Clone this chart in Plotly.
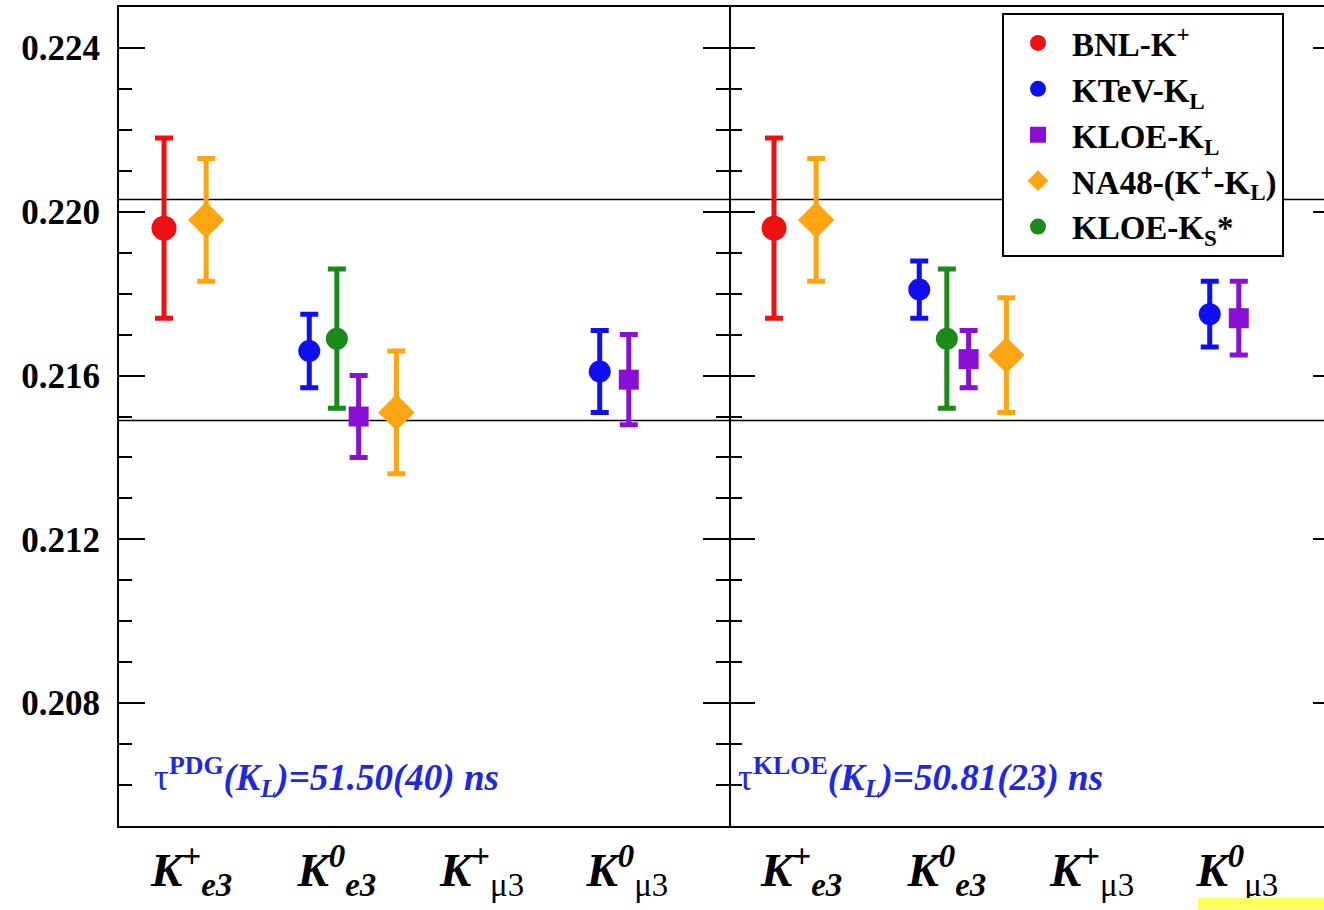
import plotly.graph_objects as go

# Decay channels on the horizontal axis
categories = ["K+e3", "K0e3", "K+mu3", "K0mu3"]
category_labels = [
    "<b><i>K</i></b><sup><b>+</b></sup><sub><b><i>e3</i></b></sub>",
    "<b><i>K</i></b><sup><b><i>0</i></b></sup><sub><b><i>e3</i></b></sub>",
    "<b><i>K</i></b><sup><b>+</b></sup><sub>\u03bc3</sub>",
    "<b><i>K</i></b><sup><b><i>0</i></b></sup><sub>\u03bc3</sub>",
]

# |Vus| f+(0) per experiment, one list per panel (None = no measurement)
# Panel 1: K_L lifetime from PDG
bnl_pdg = [0.2196, None, None, None]
bnl_pdg_err = [0.0022, None, None, None]
ktev_pdg = [None, 0.2166, None, 0.2161]
ktev_pdg_err = [None, 0.0009, None, 0.0010]
kloe_kl_pdg = [None, 0.2150, None, 0.2159]
kloe_kl_pdg_err = [None, 0.0010, None, 0.0011]
na48_pdg = [0.2198, 0.2151, None, None]
na48_pdg_err = [0.0015, 0.0015, None, None]
kloe_ks_pdg = [None, 0.2169, None, None]
kloe_ks_pdg_err = [None, 0.0017, None, None]

# Panel 2: K_L lifetime from KLOE
bnl_kloe = [0.2196, None, None, None]
bnl_kloe_err = [0.0022, None, None, None]
ktev_kloe = [None, 0.2181, None, 0.2175]
ktev_kloe_err = [None, 0.0007, None, 0.0008]
kloe_kl_kloe = [None, 0.2164, None, 0.2174]
kloe_kl_kloe_err = [None, 0.0007, None, 0.0009]
na48_kloe = [0.2198, 0.2165, None, None]
na48_kloe_err = [0.0015, 0.0014, None, None]
kloe_ks_kloe = [None, 0.2169, None, None]
kloe_ks_kloe_err = [None, 0.0017, None, None]

# Horizontal reference band
band_edges = [0.2149, 0.2203]

panel_notes = [
    "\u03c4<sup><b>PDG</b></sup><b><i>(K<sub>L</sub>)=51.50(40) ns</i></b>",
    "\u03c4<sup><b>KLOE</b></sup><b><i>(K<sub>L</sub>)=50.81(23) ns</i></b>",
]

legend_names = [
    "BNL-K<sup>+</sup>",
    "KTeV-K<sub>L</sub>",
    "KLOE-K<sub>L</sub>",
    "NA48-(K<sup>+</sup>-K<sub>L</sub>)",
    "KLOE-K<sub>S</sub>*",
]

# ---- styling ----
cat_pos = [0.5, 1.5, 2.5, 3.5]
series_style = [
    # colour, symbol, size, per-category horizontal offset
    dict(color="#ee1111", symbol="circle", size=25, offset=[-0.19, 0, 0, 0]),
    dict(color="#1010ee", symbol="circle", size=22, offset=[0, -0.19, 0, -0.19]),
    dict(color="#8a0fd6", symbol="square", size=20, offset=[0, 0.15, 0, 0.01]),
    dict(color="#ffa511", symbol="diamond", size=28, offset=[0.1, 0.41, 0, 0]),
    dict(color="#1a8a1a", symbol="circle", size=22, offset=[0, 0.0, 0, 0]),
]
panels = [
    [(bnl_pdg, bnl_pdg_err), (ktev_pdg, ktev_pdg_err), (kloe_kl_pdg, kloe_kl_pdg_err),
     (na48_pdg, na48_pdg_err), (kloe_ks_pdg, kloe_ks_pdg_err)],
    [(bnl_kloe, bnl_kloe_err), (ktev_kloe, ktev_kloe_err), (kloe_kl_kloe, kloe_kl_kloe_err),
     (na48_kloe, na48_kloe_err), (kloe_ks_kloe, kloe_ks_kloe_err)],
]

SERIF = "Liberation Serif, Times New Roman, serif"
W, H = 1324, 910
ML, MR, MT, MB = 119, 0, 7, 84
plot_w = W - ML - MR
plot_h = H - MT - MB
split = 610 / plot_w
px_per_unit = 610 / 4.2

fig = go.Figure()
for p, panel in enumerate(panels):
    xa = "x" if p == 0 else "x2"
    ya = "y" if p == 0 else "y2"
    for s, (vals, errs) in enumerate(panel):
        st = series_style[s]
        xs, ys, es = [], [], []
        for i, v in enumerate(vals):
            if v is None:
                continue
            xs.append(cat_pos[i] + st["offset"][i])
            ys.append(v)
            es.append(errs[i])
        fig.add_trace(go.Scatter(
            x=xs, y=ys, mode="markers", xaxis=xa, yaxis=ya,
            name=legend_names[s], showlegend=(p == 0),
            marker=dict(color=st["color"], symbol=st["symbol"], size=st["size"],
                        line=dict(width=0)),
            error_y=dict(type="data", array=es, visible=True, color=st["color"],
                         thickness=5, width=9),
        ))

# empty trace carrying the right-hand tick axis
fig.add_trace(go.Scatter(x=[], y=[], xaxis="x2", yaxis="y3", showlegend=False))

for xr in ("x", "x2"):
    for v in band_edges:
        fig.add_shape(type="line", xref=f"{xr} domain", yref="y", x0=0, x1=1, y0=v, y1=v,
                      line=dict(color="black", width=1.5), layer="below")

for p, txt in enumerate(panel_notes):
    fig.add_annotation(
        text=txt, xref="x" if p == 0 else "x2", yref="y",
        x=0.23 if p == 0 else 0.05, y=0.2062, xanchor="left", yanchor="middle",
        showarrow=False, font=dict(family=SERIF, size=37, color="#1e28e0"),
    )

# highlight strip at the lower right corner
fig.add_shape(type="rect", xref="paper", yref="paper",
              x0=(1198 - ML) / plot_w, x1=1.0,
              y0=-(H - (MT + plot_h)) / plot_h, y1=-(898 - (MT + plot_h)) / plot_h,
              line=dict(width=0), fillcolor="#ffff5e", layer="above")

yrange = [0.205, 0.225]
xaxis_common = dict(
    tickvals=cat_pos, ticktext=category_labels, ticks="", showgrid=False, zeroline=False,
    showline=True, mirror=True, linecolor="black", linewidth=2,
    tickfont=dict(family=SERIF, size=47, color="black"), ticklabelstandoff=2,
)
yaxis_common = dict(
    range=yrange, tick0=0.2, dtick=0.004, ticks="inside", ticklen=26, tickwidth=2,
    tickcolor="black", showgrid=False, zeroline=False,
    linecolor="black", linewidth=2,
    minor=dict(dtick=0.001, tick0=0.2, ticks="inside", ticklen=13, tickwidth=2,
               tickcolor="black", showgrid=False),
)

fig.update_layout(
    width=W, height=H,
    margin=dict(l=ML, r=MR, t=MT, b=MB, autoexpand=False),
    paper_bgcolor="white", plot_bgcolor="white",
    xaxis=dict(domain=[0, split], range=[0, 4.2], anchor="y", **xaxis_common),
    xaxis2=dict(domain=[split, 1], range=[0, (plot_w - 610) / px_per_unit], anchor="y2",
                **xaxis_common),
    yaxis=dict(anchor="x", mirror="ticks", showline=True, tickformat=".3f",
               tickfont=dict(family=SERIF, size=35, color="black", weight="bold"),
               ticklabelstandoff=10, **yaxis_common),
    yaxis2=dict(anchor="x2", matches="y", showticklabels=False, mirror=False,
                showline=False, **yaxis_common),
    yaxis3=dict(overlaying="y2", anchor="free", position=1.0, side="right", range=yrange,
                tick0=0.2, dtick=0.004, ticks="inside", ticklen=11, tickwidth=2,
                tickcolor="black", showticklabels=False, showline=False, showgrid=False,
                zeroline=False),
    legend=dict(
        x=(1002 - ML) / plot_w, y=1 - 6 / plot_h, xanchor="left", yanchor="top",
        bgcolor="white", bordercolor="black", borderwidth=2,
        font=dict(family=SERIF, size=33, color="black", weight="bold"),
        itemsizing="trace", itemwidth=58,
    ),
    showlegend=True,
)

fig.write_html("out.html")
